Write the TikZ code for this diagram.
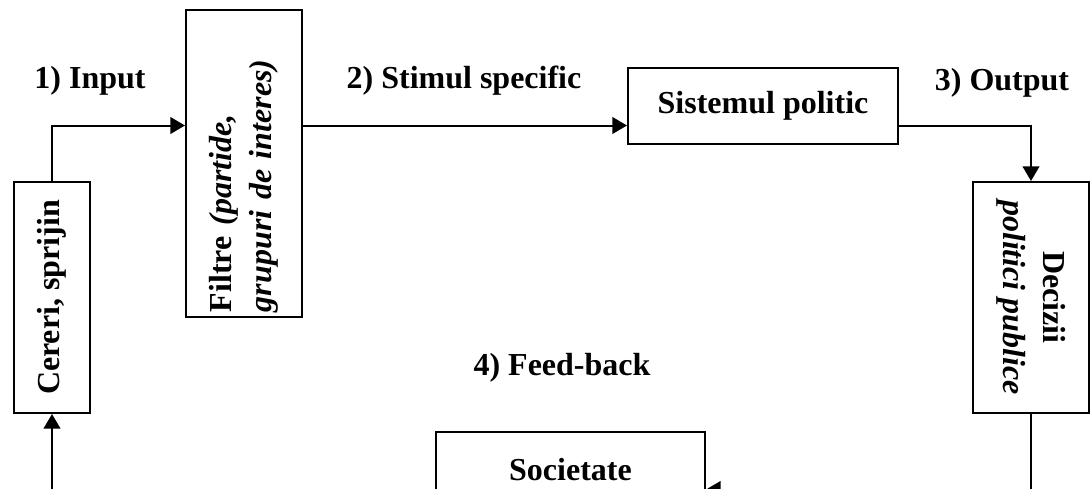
\documentclass[tikz,border=0pt]{standalone}
\usepackage{fontspec}
\setmainfont{Liberation Serif}
\usepackage{tikz}
\usetikzlibrary{arrows.meta}

\begin{document}
\begin{tikzpicture}[x=0.75pt,y=-0.75pt,->,>={Triangle[length=11pt,width=12.5pt]},line width=1.5pt,
    font=\fontsize{24}{30}\selectfont\bfseries]
    \tikzstyle{box}=[draw=black,fill=white,inner sep=0pt]
    \useasboundingbox (0,0) rectangle (1090,489);
    \clip (0,0) rectangle (1090,489);
    \coordinate (row)   at (0,125.5);
    \coordinate (base)  at (0,489.5);
    \coordinate (start) at (52,510);
    \node[box,rotate=90,minimum width=173.25pt,minimum height=57pt]  (cereri)  at (52,297.5)  {Cereri, sprijin};
    \node[box,rotate=90,text width=222.75pt,align=left,inner xsep=3.75pt,minimum height=87pt]
                                                                      (filtre)  at (244,163.5) {Filtre \textit{(partide,}\\\textit{grupuri de interes)}};
    \node[box,minimum width=202.5pt,minimum height=57pt]              (sistem)  at (763,106)   {Sistemul politic};
    \node[box,rotate=-90,align=center,minimum width=173.25pt,minimum height=87pt]
                                                                      (decizii) at (1031,297.5) {Decizii\\\textit{politici publice}};
    \node[box,minimum width=201.75pt,minimum height=57pt]             (societ)  at (570.5,470) {Societate};
    \node[anchor=base] (input)    at (90,88)   {1) Input};
    \node[anchor=base] (stimul)   at (464,88)  {2) Stimul specific};
    \node[anchor=base] (output)   at (1002,90) {3) Output};
    \node[anchor=base] (feedback) at (562,375) {4) Feed-back};
    \draw (start) -- (cereri.west);
    \draw (cereri.east) |- (filtre.north |- row);
    \draw (filtre.south |- row) -- (sistem.west |- row);
    \draw (sistem.east |- row) -| (decizii.west);
    \draw (decizii.east) |- (societ.east |- base);
\end{tikzpicture}
\end{document}
